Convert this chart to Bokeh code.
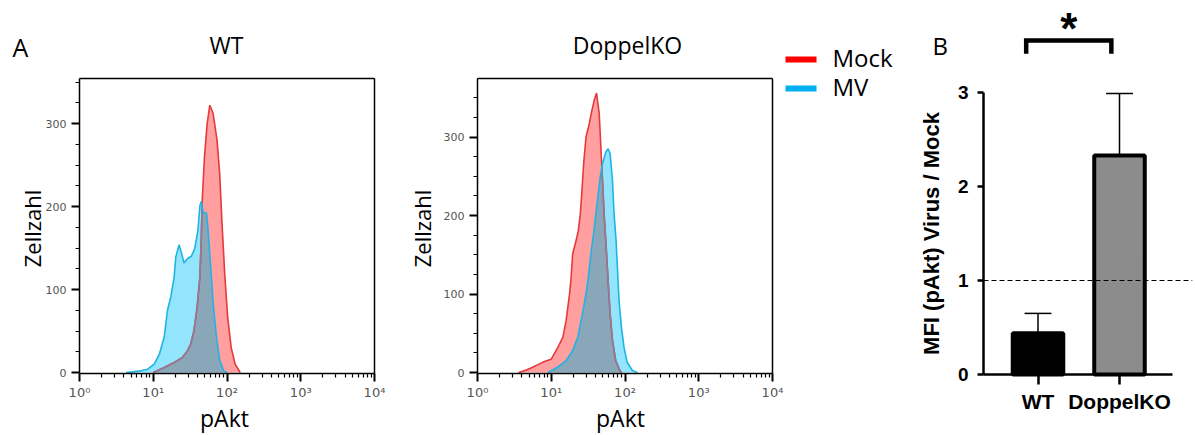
import numpy as np
from bokeh.plotting import figure
from bokeh.layouts import row
from bokeh.models import Range1d, FixedTicker, Label, BoxAnnotation
from bokeh.core.properties import value
from bokeh.embed import file_html
from bokeh.resources import INLINE

# ---------------- data ----------------
# Panel A: pAkt histograms (x = pAkt intensity, y = Zellzahl)
wt_mock_x = [10.0, 14.1, 19.2, 24.8, 29.0, 32.1, 35.6, 39.4, 42.9, 44.7, 46.1, 49.5,
             53.8, 58.5, 64.9, 73.3, 79.6, 85.7, 93.1, 102, 114, 129, 151]
wt_mock_y = [0, 6, 12, 18, 26, 34, 50, 79, 115, 159, 207, 260,
             300, 322, 312, 280, 239, 179, 119, 67, 30, 10, 0]
wt_mv_x = [4.3, 6.8, 8.4, 10.3, 12.1, 14.1, 15.6, 17.3, 19.2, 20.2, 22.4, 24.3, 26.1, 29.0,
           32.8, 36.4, 40.3, 42.9, 44.7, 47.5, 52.7, 55.5, 59.7, 64.9, 71.9, 79.6, 90.2, 100]
wt_mv_y = [0, 2, 4, 10, 22, 43, 75, 91, 115, 139, 154, 143, 132, 137,
           140, 149, 171, 201, 206, 193, 192, 171, 131, 83, 43, 15, 2, 0]

ko_mock_x = [3.6, 4.4, 5.4, 6.6, 8.1, 10.0, 12.3, 14.4, 15.9, 17.7, 18.6, 19.5, 21.7, 23.3,
             24.8, 26.1, 27.5, 29.6, 32.8, 35.2, 38.3, 41.1, 44.7, 47.1, 49.5, 52.1, 55.5,
             59.0, 62.8, 67.6, 74.8, 85.7, 90.0]
ko_mock_y = [0, 2.5, 6, 10, 14, 17, 32, 45, 66, 100, 121, 151, 168, 181,
             202, 232, 266, 300, 317, 332, 347, 356, 330, 287, 245, 202, 160,
             117, 75, 41, 15, 2, 0]
ko_mv_x = [9.0, 12.3, 15.9, 19.5, 22.9, 25.4, 27.5, 29.6, 31.8, 34.5, 37.5, 40.3, 43.4, 46.1,
           49.5, 55.0, 59.0, 62.8, 67.6, 71.1, 75.7, 78.9, 83.0, 89.3, 97.0, 107, 126, 147]
ko_mv_y = [0, 7, 15, 28, 45, 66, 83, 100, 121, 151, 177, 202, 228, 249,
           266, 281, 285, 279, 245, 202, 168, 134, 92, 58, 32, 13, 2.5, 0]

decade_ticks = [1, 10, 100, 1000, 10000]
decade_labels = ["10⁰", "10¹", "10²", "10³", "10⁴"]
count_ticks = [0, 100, 200, 300]
series_names = ["Mock", "MV"]

# Panel B: MFI ratio
categories = ["WT", "DoppelKO"]
ratio_mean = [0.44, 2.33]
ratio_err = [0.21, 0.66]
ratio_ticks = [0, 1, 2, 3]
reference_level = 1.0
significance = "*"

# ---------------- style ----------------
H = 435
PINK = "#ff9f9f"
CYAN = "#92e5fc"
OVER = "#8aa6b9"
RED_LINE = "#e5393c"
BLUE_LINE = "#1fb4e4"
HID_LINE = "#8c7d98"
SANS = "Open Sans"
ARIAL = "Liberation Sans"
BASE_SHIFT = 0.4   # measured offset of the rendered baseline, in em


def put(p, left, text, px, py, size, font=SANS, align="left", angle=0.0,
        bold=False, color="black"):
    # px, py: page pixel position of the text baseline anchor
    sx, sy = px - left, H - py
    if angle:
        sx -= BASE_SHIFT * size
    else:
        sy += BASE_SHIFT * size
    p.add_layout(Label(x=sx, y=sy, x_units="screen", y_units="screen",
                       text=text, text_font=font, text_font_size=f"{size}px",
                       text_align=align, text_baseline="alphabetic", angle=angle,
                       text_font_style="bold" if bold else "normal",
                       text_color=color))


def base_fig(left, width, x_range, y_range, **kw):
    p = figure(width=width, height=H, x_range=x_range, y_range=y_range, title=None,
               min_border=0, min_border_left=0, min_border_right=0,
               min_border_top=0, min_border_bottom=0,
               output_backend="svg", toolbar_location=None, **kw)
    p.grid.visible = False
    p.outline_line_color = None
    p.background_fill_color = "white"
    p.border_fill_color = "white"
    return p


def hist_fig(left, width, origin_px, px_per_count, ymin, ymax):
    dec = 73.75          # pixels per decade
    zero_px = 372        # page y of count 0
    xr = Range1d(10 ** ((left - origin_px) / dec), 10 ** ((left + width - origin_px) / dec))
    yr = Range1d((zero_px - H) / px_per_count, zero_px / px_per_count)
    p = base_fig(left, width, xr, yr, x_axis_type="log")
    minor = [k * 10 ** d for d in range(4) for k in range(2, 10)]
    p.xaxis.ticker = FixedTicker(ticks=decade_ticks, minor_ticks=minor)
    p.xaxis.major_label_overrides = dict(zip(decade_ticks, decade_labels))
    p.xaxis.fixed_location = ymin
    p.xaxis.bounds = (decade_ticks[0], decade_ticks[-1])
    p.yaxis.ticker = FixedTicker(ticks=count_ticks,
                                 minor_ticks=list(range(0, int(ymax) + 1, 25)))
    p.yaxis.fixed_location = decade_ticks[0]
    p.yaxis.bounds = (ymin, ymax)
    for ax in (p.xaxis, p.yaxis):
        ax.axis_line_width = 1.5
        ax.axis_line_color = "black"
        ax.major_tick_out = 8
        ax.major_tick_in = 0
        ax.major_tick_line_width = 2
        ax.minor_tick_out = 4
        ax.minor_tick_in = 0
        ax.minor_tick_line_width = 1.2
        ax.major_label_text_font = "DejaVu Sans"
        ax.major_label_text_color = "#555555"
    p.xaxis.major_label_text_font_size = "13px"
    p.xaxis.major_label_standoff = 4
    p.yaxis.major_label_text_font_size = "11px"
    p.yaxis.major_label_standoff = 5
    # plot box: top and right edges at the axis bounds
    x_lo, x_hi = decade_ticks[0], decade_ticks[-1]
    p.segment(x0=[x_lo, x_hi], y0=[ymax, ymin], x1=[x_hi, x_hi], y1=[ymax, ymax],
              line_color="black", line_width=1.5)
    return p


def add_hist(p, mx, my, vx, vy):
    p.varea(x=mx, y1=0, y2=my, fill_color=PINK)
    p.varea(x=vx, y1=0, y2=vy, fill_color=CYAN)
    lm, lv = np.log10(mx), np.log10(vx)
    g = np.linspace(min(lm[0], lv[0]), max(lm[-1], lv[-1]), 900)
    a = np.interp(g, lm, my, left=0, right=0)
    b = np.interp(g, lv, vy, left=0, right=0)
    p.varea(x=10 ** g, y1=0, y2=np.minimum(a, b), fill_color=OVER)
    p.line(mx, my, line_color=RED_LINE, line_width=1.6)
    hid = np.where((a <= b) & (a > 0.3), a, np.nan)
    p.line(10 ** g, hid, line_color=HID_LINE, line_width=1.6)
    p.line(vx, vy, line_color=BLUE_LINE, line_width=1.6)


# ---------- WT histogram (page x 0..405) ----------
LA, WA = 0, 405
pa = hist_fig(LA, WA, 79, 0.83, -1.2, 354.2)
add_hist(pa, wt_mock_x, wt_mock_y, wt_mv_x, wt_mv_y)
put(pa, LA, "A", 12, 56, 25)
put(pa, LA, "WT", 226, 54, 23, align="center")
put(pa, LA, "Zellzahl", 40, 228, 22, align="center", angle=np.pi / 2)
put(pa, LA, "pAkt", 224, 427, 23, align="center")

# ---------- DoppelKO histogram (page x 405..900) ----------
LB, WB = 405, 495
pb = hist_fig(LB, WB, 477, 0.785, -1.27, 374.5)
add_hist(pb, ko_mock_x, ko_mock_y, ko_mv_x, ko_mv_y)
put(pb, LB, "DoppelKO", 627, 54, 23, align="center")
put(pb, LB, "Zellzahl", 430, 228, 22, align="center", angle=np.pi / 2)
put(pb, LB, "pAkt", 620, 427, 23, align="center")
for name, col, cy in zip(series_names, ["#ff0000", "#00b0f0"], [59, 88]):
    pb.add_layout(BoxAnnotation(left=785 - LB, right=816 - LB,
                                top=H - (cy - 3), bottom=H - (cy + 3),
                                left_units="screen", right_units="screen",
                                top_units="screen", bottom_units="screen",
                                fill_color=col, fill_alpha=1.0, line_color=None))
    put(pb, LB, name, 832, cy + 8, 24)

# ---------- Bar chart (page x 900..1195) ----------
LC, WC = 900, 295
xpos = list(range(len(categories)))
bar_px0, bar_step, zero_py, py_unit = 1037.5, 81.5, 374, 94
axis_x = (983 - bar_px0) / bar_step
axis_x_end = (1172 - bar_px0) / bar_step
xr = Range1d((LC - bar_px0) / bar_step, (LC + WC - bar_px0) / bar_step)
yr = Range1d((zero_py - H) / py_unit, zero_py / py_unit)
pc = base_fig(LC, WC, xr, yr)

pc.vbar(x=xpos, top=ratio_mean, width=0.62, fill_color=["black", "#8c8c8c"],
        line_color="black", line_width=4)
upper = [m + e for m, e in zip(ratio_mean, ratio_err)]
pc.segment(x0=xpos, y0=ratio_mean, x1=xpos, y1=upper, line_color="black", line_width=1.5)
pc.segment(x0=[x - 0.165 for x in xpos], y0=upper, x1=[x + 0.165 for x in xpos], y1=upper,
           line_color="black", line_width=1.5)
pc.segment(x0=[axis_x], y0=[reference_level], x1=[xr.end - 0.04], y1=[reference_level],
           line_color="black", line_width=1.2, line_dash="5 3")

# significance bracket and star
bx0, bx1 = xpos[0] - 0.145, xpos[1] - 0.1
by, bdrop = 3.553, 0.14
pc.line(x=[bx0, bx0, bx1, bx1], y=[by - bdrop, by, by, by - bdrop], line_color="black",
        line_width=4.5, line_join="miter")
star_size = 44
star_y = (zero_py - 45.5 + BASE_SHIFT * star_size) / py_unit
pc.text(x=[(bx0 + bx1) / 2], y=[star_y], text=[significance], text_align="center",
        text_baseline="alphabetic", text_font=value(ARIAL), text_font_style="bold",
        text_font_size=f"{star_size}px", text_color="black")

pc.yaxis.ticker = FixedTicker(ticks=ratio_ticks)
pc.yaxis.bounds = (ratio_ticks[0], ratio_ticks[-1])
pc.yaxis.fixed_location = axis_x
pc.xaxis.ticker = FixedTicker(ticks=xpos)
pc.xaxis.bounds = (axis_x, axis_x_end)
pc.xaxis.fixed_location = 0
pc.xaxis.major_label_overrides = dict(zip(xpos, categories))
for ax in (pc.xaxis, pc.yaxis):
    ax.axis_line_width = 2.5
    ax.axis_line_color = "black"
    ax.major_tick_line_width = 2.5
    ax.major_tick_in = 0
    ax.minor_tick_line_color = None
    ax.major_label_text_font = ARIAL
    ax.major_label_text_font_style = "bold"
    ax.major_label_text_color = "black"
pc.yaxis.major_tick_out = 6
pc.yaxis.major_label_standoff = 9
pc.yaxis.major_label_text_font_size = "19px"
pc.xaxis.major_tick_out = 10
pc.xaxis.major_label_standoff = 5
pc.xaxis.major_label_text_font_size = "21px"

put(pc, LC, "B", 932, 55, 24)
put(pc, LC, "MFI (pAkt) Virus / Mock", 940, 233, 22, font=ARIAL, align="center",
    angle=np.pi / 2, bold=True)

layout = row(pa, pb, pc)
open("out.html", "w").write(file_html(layout, INLINE))
